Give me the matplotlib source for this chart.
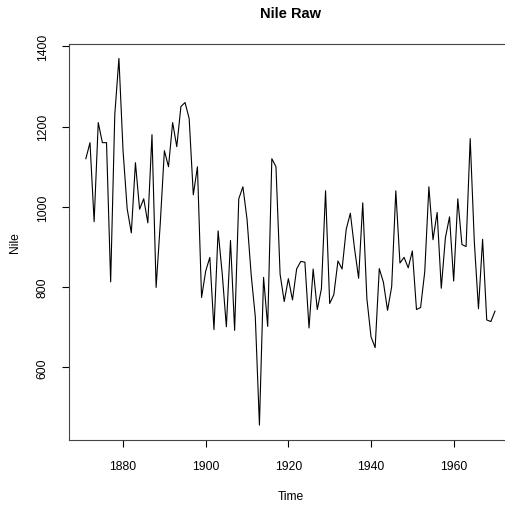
import numpy as np
import matplotlib.pyplot as plt

plt.rcParams['font.family'] = ['Liberation Sans', 'DejaVu Sans']

# annual Nile flow, 1871-1970
years = np.arange(1871, 1971)
nile = [1120, 1160, 963, 1210, 1160, 1160, 813, 1230, 1370, 1140,
        995, 935, 1110, 994, 1020, 960, 1180, 799, 958, 1140,
        1100, 1210, 1150, 1250, 1260, 1220, 1030, 1100, 774, 840,
        874, 694, 940, 833, 701, 916, 692, 1020, 1050, 969,
        831, 726, 456, 824, 702, 1120, 1100, 832, 764, 821,
        768, 845, 864, 862, 698, 845, 744, 796, 1040, 759,
        781, 865, 845, 944, 984, 897, 822, 1010, 771, 676,
        649, 846, 812, 742, 801, 1040, 860, 874, 848, 890,
        744, 749, 838, 1050, 918, 986, 797, 923, 975, 815,
        1020, 906, 901, 1170, 912, 746, 919, 718, 714, 740]
xticks = [1880, 1900, 1920, 1940, 1960]
yticks = [600, 800, 1000, 1200, 1400]

fig = plt.figure(figsize=(5.05, 5.06), dpi=100)
ax = fig.add_axes([0.1376, 0.129, 0.875, 0.7826])

ax.plot(years, nile, color='black', linewidth=0.8)

# R style 4% padding
xr = years[-1] - years[0]
ax.set_xlim(years[0] - 0.04 * xr, years[-1] + 0.04 * xr)
yr = max(nile) - min(nile)
ax.set_ylim(min(nile) - 0.04 * yr, max(nile) + 0.04 * yr)

ax.set_xticks(xticks)
ax.set_yticks(yticks)
ax.set_yticklabels([str(v) for v in yticks], rotation=90, va='center')
ax.tick_params(direction='out', length=5, width=0.8, labelsize=8.7)
ax.tick_params(axis='x', pad=9.5)
ax.tick_params(axis='y', pad=10)

for s in ['top', 'left', 'bottom', 'right']:
    ax.spines[s].set_linewidth(0.8)
    ax.spines[s].set_color('#444444')

ax.set_title('Nile Raw', fontsize=10.5, fontweight='bold', pad=19)
ax.set_xlabel('Time', fontsize=8.7, labelpad=13)
ax.set_ylabel('Nile', fontsize=8.7, labelpad=11)

fig.savefig('out.png', dpi=100)
